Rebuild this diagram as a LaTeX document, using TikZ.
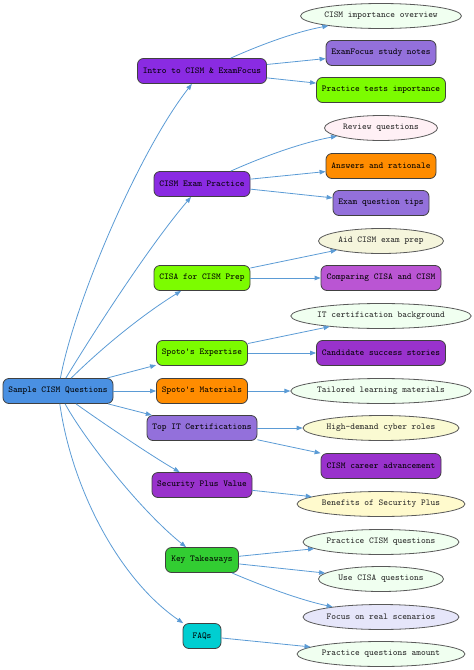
\documentclass[tikz,border=0pt]{standalone}
\usepackage{fontspec}
\usetikzlibrary{arrows.meta,shapes.geometric}
\definecolor{edgec}{HTML}{5B9BD5}
\definecolor{rootc}{HTML}{4A90E2}
\definecolor{bviolet}{HTML}{8A2BE2}
\definecolor{dorchid}{HTML}{9932CC}
\definecolor{morchid}{HTML}{BA55D3}
\definecolor{mpurple}{HTML}{9370DB}
\definecolor{lgreen}{HTML}{7CFC00}
\definecolor{limeg}{HTML}{32CD32}
\definecolor{dorange}{HTML}{FF8C00}
\definecolor{dturq}{HTML}{00CED1}
\definecolor{honeyd}{HTML}{F0FFF0}
\definecolor{lavblush}{HTML}{FFF0F5}
\definecolor{beigec}{HTML}{F5F5DC}
\definecolor{lgyellow}{HTML}{FAFAD2}
\definecolor{lemonc}{HTML}{FFFACD}
\definecolor{lavc}{HTML}{E6E6FA}
\tikzset{
  box/.style={draw=black!75, line width=0.8pt, rounded corners=6pt, minimum height=25pt, inner sep=0pt, font=\ttfamily\fontsize{9}{10}\selectfont, text=black},
  oval/.style={ellipse, draw=black!65, line width=0.8pt, minimum height=25pt, inner sep=0pt, font=\ttfamily\fontsize{9}{10}\selectfont, text=black!85},
  edge/.style={draw=edgec, line width=0.8pt, -{Triangle[length=6pt,width=4.5pt]}}
}
\begin{document}
\begin{tikzpicture}[x=1pt,y=-1pt]
\useasboundingbox (0,0) rectangle (474,670);
% root
\node[box, fill=rootc, minimum width=110pt] (root) at (58,391) {Sample CISM Questions};
% level 1
\node[box, fill=bviolet, minimum width=129pt] (intro) at (202,71) {Intro to CISM \& ExamFocus};
\node[box, fill=bviolet, minimum width=96pt] (exam) at (202,184) {CISM Exam Practice};
\node[box, fill=lgreen, minimum width=96pt] (cisa) at (202,278) {CISA for CISM Prep};
\node[box, fill=lgreen, minimum width=91pt] (expert) at (202,353) {Spoto\textquotesingle s Expertise};
\node[box, fill=dorange, minimum width=91pt] (mater) at (202,391) {Spoto\textquotesingle s Materials};
\node[box, fill=mpurple, minimum width=110pt] (topit) at (202,428) {Top IT Certifications};
\node[box, fill=dorchid, minimum width=100pt] (secp) at (202,485) {Security Plus Value};
\node[box, fill=limeg, minimum width=73pt] (key) at (202,560) {Key Takeaways};
\node[box, fill=dturq, minimum width=38pt] (faq) at (202,636) {FAQs};
% level 2
\node[oval, fill=honeyd, minimum width=161pt] (imp) at (381,16) {CISM importance overview};
\node[box, fill=mpurple, minimum width=110pt] (notes) at (381,53) {ExamFocus study notes};
\node[box, fill=lgreen, minimum width=129pt] (ptests) at (381,90) {Practice tests importance};
\node[oval, fill=lavblush, minimum width=113pt] (review) at (381,128) {Review questions};
\node[box, fill=dorange, minimum width=110pt] (answers) at (381,166) {Answers and rationale};
\node[box, fill=mpurple, minimum width=96pt] (tips) at (381,203) {Exam question tips};
\node[oval, fill=beigec, minimum width=125pt] (aid) at (381,241) {Aid CISM exam prep};
\node[box, fill=morchid, minimum width=120pt] (compare) at (381,278) {Comparing CISA and CISM};
\node[oval, fill=honeyd, minimum width=180pt] (itbg) at (381,316) {IT certification background};
\node[box, fill=dorchid, minimum width=129pt] (cand) at (381,353) {Candidate success stories};
\node[oval, fill=honeyd, minimum width=180pt] (tail) at (381,391) {Tailored learning materials};
\node[oval, fill=lgyellow, minimum width=156pt] (high) at (381,428) {High-demand cyber roles};
\node[box, fill=dorchid, minimum width=120pt] (career) at (381,466) {CISM career advancement};
\node[oval, fill=lemonc, minimum width=168pt] (benef) at (381,504) {Benefits of Security Plus};
\node[oval, fill=honeyd, minimum width=156pt] (pcism) at (381,542) {Practice CISM questions};
\node[oval, fill=honeyd, minimum width=125pt] (ucisa) at (381,579) {Use CISA questions};
\node[oval, fill=lavc, minimum width=156pt] (focus) at (381,617) {Focus on real scenarios};
\node[oval, fill=honeyd, minimum width=168pt] (pamount) at (381,654) {Practice questions amount};
% root edges
\draw[edge] (root) .. controls (75,300) and (140,150) .. (intro);
\draw[edge] (root) .. controls (95,330) and (150,245) .. (exam);
\draw[edge] (root) .. controls (110,340) and (150,310) .. (cisa);
\draw[edge] (root) -- (expert);
\draw[edge] (root) -- (mater);
\draw[edge] (root) -- (topit);
\draw[edge] (root) .. controls (100,421) and (150,455) .. (secp);
\draw[edge] (root) .. controls (85,440) and (140,510) .. (key);
\draw[edge] (root) .. controls (72,490) and (120,580) .. (faq);
% level-1 edges
\draw[edge] (intro) .. controls (260,45) and (295,32) .. (imp);
\draw[edge] (intro) -- (notes);
\draw[edge] (intro) -- (ptests);
\draw[edge] (exam) .. controls (260,158) and (300,143) .. (review);
\draw[edge] (exam) -- (answers);
\draw[edge] (exam) -- (tips);
\draw[edge] (cisa) -- (aid);
\draw[edge] (cisa) -- (compare);
\draw[edge] (expert) -- (itbg);
\draw[edge] (expert) -- (cand);
\draw[edge] (mater) -- (tail);
\draw[edge] (topit) -- (high);
\draw[edge] (topit) -- (career);
\draw[edge] (secp) -- (benef);
\draw[edge] (key) -- (pcism);
\draw[edge] (key) -- (ucisa);
\draw[edge] (key) .. controls (260,585) and (300,600) .. (focus);
\draw[edge] (faq) -- (pamount);
\end{tikzpicture}
\end{document}
